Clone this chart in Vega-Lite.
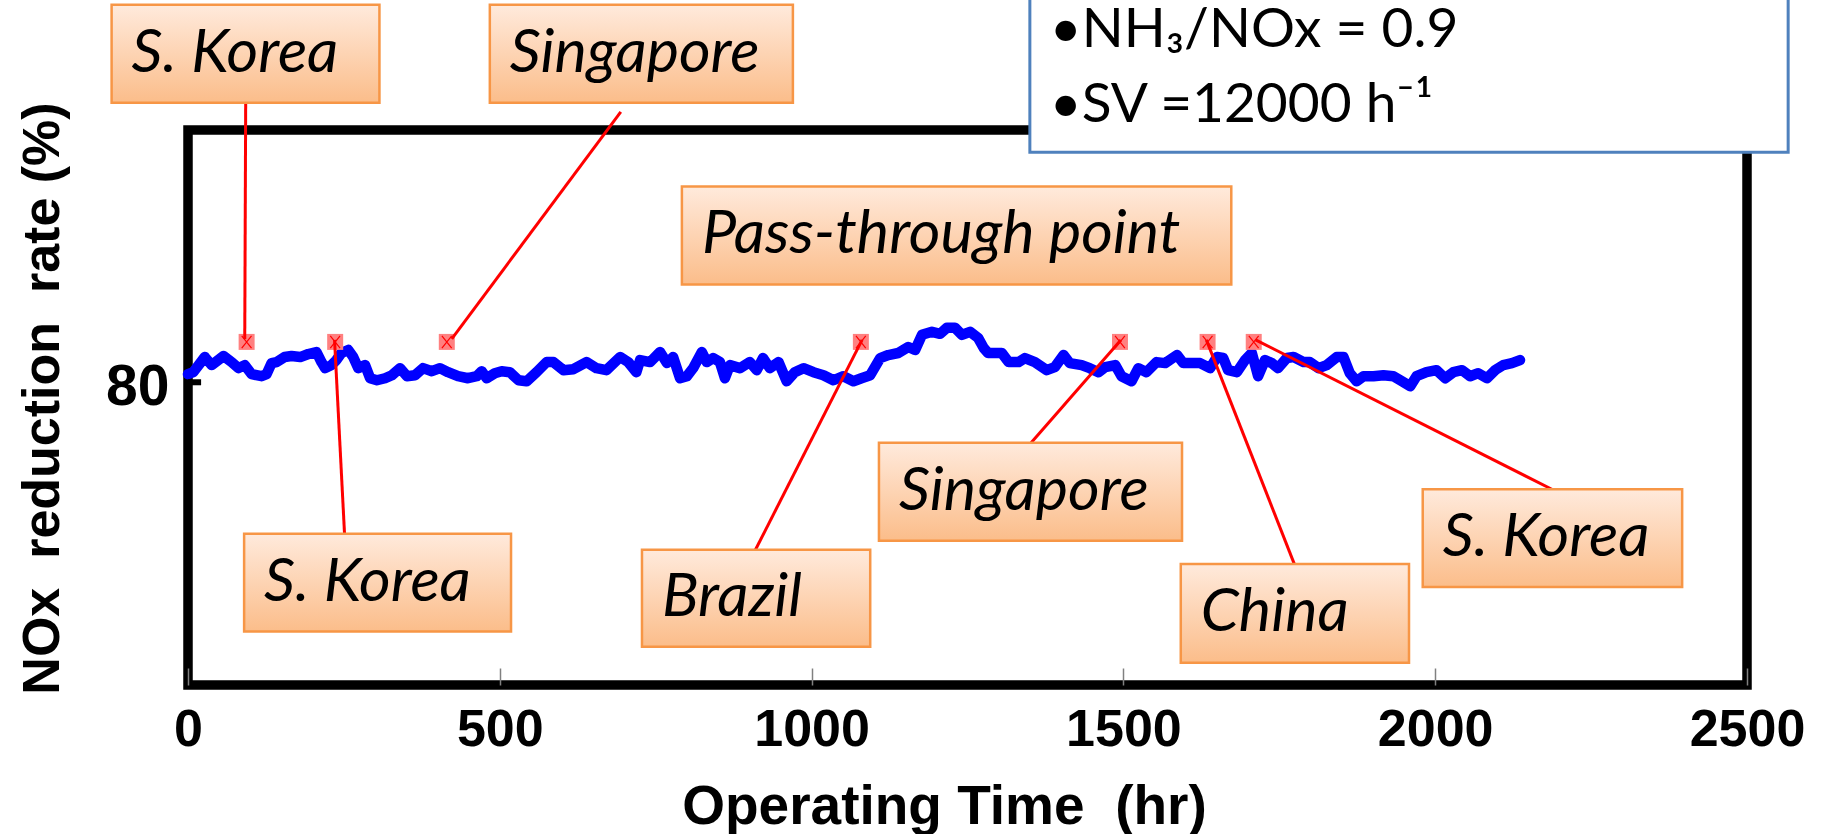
{
  "$schema": "https://vega.github.io/schema/vega-lite/v6.json",
  "autosize": "none",
  "width": 1559,
  "height": 555,
  "padding": {"left": 188, "top": 130, "right": 78, "bottom": 149},
  "background": "white",
  "config": {"view": {"stroke": "black", "strokeWidth": 9.5}},
  "datasets": {
    "series": [
      {"hours": 0, "rate": 80.8}, {"hours": 8.5, "rate": 81.0}, {"hours": 27, "rate": 82.5}, {"hours": 38, "rate": 81.7},
      {"hours": 57, "rate": 82.6}, {"hours": 70, "rate": 82.0}, {"hours": 81, "rate": 81.4}, {"hours": 91, "rate": 81.7},
      {"hours": 102, "rate": 80.8}, {"hours": 118, "rate": 80.6}, {"hours": 126, "rate": 80.8}, {"hours": 134, "rate": 81.9},
      {"hours": 142, "rate": 82.0}, {"hours": 155, "rate": 82.5}, {"hours": 166, "rate": 82.6}, {"hours": 180, "rate": 82.5},
      {"hours": 193, "rate": 82.8}, {"hours": 206, "rate": 83.0}, {"hours": 214, "rate": 82.0}, {"hours": 220, "rate": 81.4},
      {"hours": 230, "rate": 81.7}, {"hours": 238, "rate": 82.2}, {"hours": 246, "rate": 82.9}, {"hours": 257, "rate": 83.2},
      {"hours": 265, "rate": 82.5}, {"hours": 273, "rate": 81.4}, {"hours": 284, "rate": 81.7}, {"hours": 292, "rate": 80.4},
      {"hours": 303, "rate": 80.2}, {"hours": 316, "rate": 80.4}, {"hours": 327, "rate": 80.7}, {"hours": 340, "rate": 81.4},
      {"hours": 351, "rate": 80.6}, {"hours": 364, "rate": 80.7}, {"hours": 377, "rate": 81.4}, {"hours": 391, "rate": 81.1},
      {"hours": 404, "rate": 81.4}, {"hours": 417, "rate": 81.0}, {"hours": 433, "rate": 80.6}, {"hours": 449, "rate": 80.4},
      {"hours": 463, "rate": 80.6}, {"hours": 471, "rate": 81.1}, {"hours": 479, "rate": 80.4}, {"hours": 492, "rate": 80.9},
      {"hours": 503, "rate": 81.1}, {"hours": 516, "rate": 81.0}, {"hours": 530, "rate": 80.2}, {"hours": 543, "rate": 80.1},
      {"hours": 559, "rate": 81.0}, {"hours": 575, "rate": 82.0}, {"hours": 586, "rate": 82.0}, {"hours": 602, "rate": 81.2},
      {"hours": 618, "rate": 81.3}, {"hours": 639, "rate": 82.0}, {"hours": 655, "rate": 81.4}, {"hours": 671, "rate": 81.2},
      {"hours": 693, "rate": 82.5}, {"hours": 706, "rate": 82.0}, {"hours": 719, "rate": 81.0}, {"hours": 725, "rate": 82.2},
      {"hours": 741, "rate": 82.0}, {"hours": 757, "rate": 83.0}, {"hours": 768, "rate": 81.9}, {"hours": 778, "rate": 82.5},
      {"hours": 789, "rate": 80.4}, {"hours": 800, "rate": 80.6}, {"hours": 810, "rate": 81.4}, {"hours": 824, "rate": 83.0},
      {"hours": 832, "rate": 82.0}, {"hours": 842, "rate": 82.4}, {"hours": 853, "rate": 82.0}, {"hours": 861, "rate": 80.4},
      {"hours": 869, "rate": 81.7}, {"hours": 885, "rate": 81.4}, {"hours": 901, "rate": 82.0}, {"hours": 912, "rate": 81.2},
      {"hours": 922, "rate": 82.4}, {"hours": 933, "rate": 81.4}, {"hours": 947, "rate": 82.0}, {"hours": 960, "rate": 80.1},
      {"hours": 973, "rate": 81.0}, {"hours": 987, "rate": 81.4}, {"hours": 1003, "rate": 81.0}, {"hours": 1019, "rate": 80.7},
      {"hours": 1035, "rate": 80.2}, {"hours": 1051, "rate": 80.6}, {"hours": 1067, "rate": 80.1}, {"hours": 1080, "rate": 80.4},
      {"hours": 1094, "rate": 80.7}, {"hours": 1110, "rate": 82.4}, {"hours": 1123, "rate": 82.7}, {"hours": 1139, "rate": 82.9},
      {"hours": 1155, "rate": 83.5}, {"hours": 1166, "rate": 83.2}, {"hours": 1177, "rate": 84.7}, {"hours": 1193, "rate": 85.0},
      {"hours": 1206, "rate": 84.8}, {"hours": 1217, "rate": 85.4}, {"hours": 1230, "rate": 85.4}, {"hours": 1241, "rate": 84.7},
      {"hours": 1254, "rate": 85.0}, {"hours": 1267, "rate": 84.4}, {"hours": 1276, "rate": 83.4}, {"hours": 1283, "rate": 82.9},
      {"hours": 1305, "rate": 82.9}, {"hours": 1316, "rate": 82.0}, {"hours": 1332, "rate": 82.0}, {"hours": 1342, "rate": 82.4},
      {"hours": 1358, "rate": 82.0}, {"hours": 1377, "rate": 81.2}, {"hours": 1390, "rate": 81.5}, {"hours": 1404, "rate": 82.7},
      {"hours": 1414, "rate": 81.9}, {"hours": 1433, "rate": 81.7}, {"hours": 1446, "rate": 81.4}, {"hours": 1460, "rate": 81.0},
      {"hours": 1471, "rate": 81.5}, {"hours": 1487, "rate": 81.7}, {"hours": 1497, "rate": 80.6}, {"hours": 1513, "rate": 80.1},
      {"hours": 1524, "rate": 81.4}, {"hours": 1537, "rate": 81.0}, {"hours": 1553, "rate": 82.0}, {"hours": 1567, "rate": 81.9},
      {"hours": 1586, "rate": 82.7}, {"hours": 1596, "rate": 81.9}, {"hours": 1615, "rate": 81.9}, {"hours": 1623, "rate": 81.9},
      {"hours": 1639, "rate": 81.4}, {"hours": 1650, "rate": 82.5}, {"hours": 1660, "rate": 82.4}, {"hours": 1668, "rate": 81.2},
      {"hours": 1682, "rate": 81.0}, {"hours": 1695, "rate": 82.2}, {"hours": 1706, "rate": 82.9}, {"hours": 1716, "rate": 80.6},
      {"hours": 1727, "rate": 82.2}, {"hours": 1738, "rate": 81.9}, {"hours": 1748, "rate": 81.4}, {"hours": 1762, "rate": 82.4},
      {"hours": 1773, "rate": 82.5}, {"hours": 1789, "rate": 82.0}, {"hours": 1799, "rate": 82.0}, {"hours": 1813, "rate": 81.4},
      {"hours": 1826, "rate": 81.7}, {"hours": 1842, "rate": 82.5}, {"hours": 1853, "rate": 82.5}, {"hours": 1863, "rate": 80.9},
      {"hours": 1874, "rate": 80.1}, {"hours": 1885, "rate": 80.6}, {"hours": 1901, "rate": 80.6}, {"hours": 1917, "rate": 80.7},
      {"hours": 1933, "rate": 80.6}, {"hours": 1944, "rate": 80.2}, {"hours": 1960, "rate": 79.6}, {"hours": 1970, "rate": 80.6},
      {"hours": 1986, "rate": 81.0}, {"hours": 2002, "rate": 81.2}, {"hours": 2016, "rate": 80.4}, {"hours": 2029, "rate": 81.0},
      {"hours": 2043, "rate": 81.2}, {"hours": 2056, "rate": 80.6}, {"hours": 2069, "rate": 80.9}, {"hours": 2083, "rate": 80.4},
      {"hours": 2096, "rate": 81.2}, {"hours": 2109, "rate": 81.7}, {"hours": 2123, "rate": 81.9}, {"hours": 2136, "rate": 82.2}
    ],
    "markers": [
      {"hours": 94, "rate": 84.0}, {"hours": 236, "rate": 84.0}, {"hours": 415, "rate": 84.0}, {"hours": 1079, "rate": 84.0},
      {"hours": 1494.5, "rate": 84.0}, {"hours": 1635, "rate": 84.0}, {"hours": 1709, "rate": 84.0}
    ],
    "leaders": [
      {"hours": 91, "rate": 84.3, "hours2": 92.5, "rate2": 107.7},
      {"hours": 235, "rate": 84.2, "hours2": 251, "rate2": 65.0},
      {"hours": 423, "rate": 84.3, "hours2": 694, "rate2": 106.8},
      {"hours": 1081, "rate": 84.2, "hours2": 910, "rate2": 63.4},
      {"hours": 1496, "rate": 84.2, "hours2": 1352, "rate2": 74.0},
      {"hours": 1633, "rate": 84.2, "hours2": 1774, "rate2": 62.0},
      {"hours": 1712, "rate": 84.2, "hours2": 2187, "rate2": 69.4}
    ],
    "ytick": [
      {"hours": 0, "hours2": 21, "rate": 80}
    ],
    "boxes": [
      {"hours": -122.5, "hours2": 307, "rate": 107.7, "rate2": 117.4},
      {"hours": 484, "hours2": 970, "rate": 107.7, "rate2": 117.4},
      {"hours": 792, "hours2": 1673, "rate": 89.7, "rate2": 99.4},
      {"hours": 90, "hours2": 518, "rate": 55.3, "rate2": 65.0},
      {"hours": 728, "hours2": 1094, "rate": 53.8, "rate2": 63.4},
      {"hours": 1108, "hours2": 1594, "rate": 64.3, "rate2": 74.0},
      {"hours": 1592, "hours2": 1958, "rate": 52.2, "rate2": 62.0},
      {"hours": 1980, "hours2": 2396, "rate": 59.7, "rate2": 69.4}
    ],
    "boxlabels": [
      {"label": "S. Korea", "hours": -122.5, "rate": 112.5},
      {"label": "Singapore", "hours": 484, "rate": 112.5},
      {"label": "Pass-through point", "hours": 792, "rate": 94.55},
      {"label": "S. Korea", "hours": 90, "rate": 60.1},
      {"label": "Brazil", "hours": 728, "rate": 58.6},
      {"label": "Singapore", "hours": 1108, "rate": 69.1},
      {"label": "China", "hours": 1592, "rate": 57.1},
      {"label": "S. Korea", "hours": 1980, "rate": 64.6}
    ],
    "info": [
      {"hours": 1350, "hours2": 2566, "rate": 102.8, "rate2": 125}
    ],
    "infotext": [
      {"text": "•NH₃/NOx = 0.9", "hours": 1382, "rate": 113.2},
      {"text": "•SV =12000 h⁻¹", "hours": 1382, "rate": 105.8}
    ]
  },
  "encoding": {
    "x": {
      "field": "hours", "type": "quantitative",
      "scale": {"domain": [0, 2500], "nice": false, "zero": false},
      "axis": {
        "values": [0, 500, 1000, 1500, 2000, 2500],
        "format": "d",
        "title": "Operating Time\u00a0 (hr)",
        "domain": false, "grid": false,
        "tickSize": -17, "tickColor": "#808080", "tickWidth": 1.5,
        "labelPadding": 36, "labelFont": "Liberation Sans", "labelFontWeight": "bold",
        "labelFontSize": 52, "labelColor": "black", "labelFlush": false,
        "titleFont": "Liberation Sans", "titleFontWeight": "bold", "titleFontSize": 55, "titleColor": "black",
        "titleX": 756, "titleY": 138, "titleBaseline": "alphabetic", "titleAlign": "center"
      }
    },
    "y": {
      "field": "rate", "type": "quantitative",
      "scale": {"domain": [50, 105], "nice": false, "zero": false},
      "axis": {
        "values": [80],
        "format": "d",
        "title": "NOx\u00a0 reduction\u00a0 rate (%)",
        "domain": false, "grid": false, "ticks": false,
        "labelPadding": 19, "labelOffset": 5, "labelFont": "Liberation Sans", "labelFontWeight": "bold",
        "labelFontSize": 57, "labelColor": "black",
        "titleFont": "Liberation Sans", "titleFontWeight": "bold", "titleFontSize": 52, "titleColor": "black",
        "titleAngle": 270, "titleX": -130, "titleY": 268, "titleBaseline": "alphabetic", "titleAlign": "center"
      }
    }
  },
  "layer": [
    {
      "data": {"name": "series"},
      "mark": {"type": "line", "color": "#0000ff", "strokeWidth": 10.5, "strokeJoin": "round", "strokeCap": "round"}
    },
    {
      "data": {"name": "ytick"},
      "mark": {"type": "rule", "color": "black", "strokeWidth": 6},
      "encoding": {
        "x2": {"field": "hours2"}
      }
    },
    {
      "data": {"name": "markers"},
      "mark": {"type": "point", "shape": "square", "size": 256, "filled": true, "fill": "#ff8080", "opacity": 1, "strokeWidth": 0}
    },
    {
      "data": {"name": "markers"},
      "mark": {"type": "point", "shape": "M-0.8,-1L0.8,1M-0.8,1L0.8,-1", "size": 150, "filled": false, "stroke": "#ff0000", "strokeWidth": 1.2, "opacity": 1}
    },
    {
      "data": {"name": "leaders"},
      "mark": {"type": "rule", "color": "#ff0000", "strokeWidth": 3},
      "encoding": {
        "x2": {"field": "hours2"},
        "y2": {"field": "rate2"}
      }
    },
    {
      "data": {"name": "boxes"},
      "mark": {
        "type": "rect",
        "fill": {"gradient": "linear", "x1": 0, "y1": 0, "x2": 0, "y2": 1,
          "stops": [{"offset": 0, "color": "#ffeadc"}, {"offset": 1, "color": "#fbbd8a"}]},
        "stroke": "#f79646", "strokeWidth": 2.5
      },
      "encoding": {
        "x2": {"field": "hours2"},
        "y2": {"field": "rate2"}
      }
    },
    {
      "data": {"name": "boxlabels"},
      "mark": {"type": "text", "align": "left", "baseline": "middle", "dx": 20, "font": "Lato", "fontStyle": "italic", "fontSize": 61, "color": "black"},
      "encoding": {
        "text": {"field": "label"}
      }
    },
    {
      "data": {"name": "info"},
      "mark": {"type": "rect", "fill": "white", "stroke": "#4f81bd", "strokeWidth": 3},
      "encoding": {
        "x2": {"field": "hours2"},
        "y2": {"field": "rate2"}
      }
    },
    {
      "data": {"name": "infotext"},
      "mark": {"type": "text", "align": "left", "baseline": "alphabetic", "font": "Lato", "fontSize": 55, "color": "black"},
      "encoding": {
        "text": {"field": "text"}
      }
    }
  ]
}
